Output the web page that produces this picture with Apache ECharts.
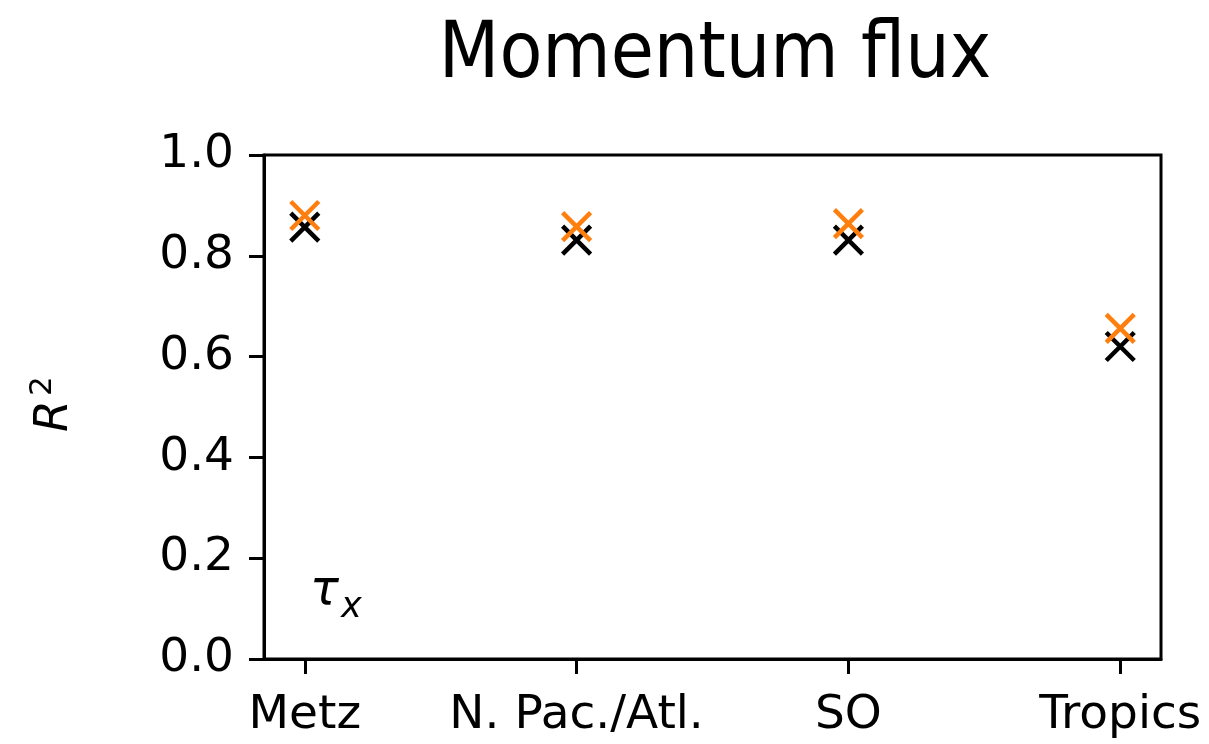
<!DOCTYPE html>
<html><head><meta charset="utf-8">
<script src="https://cdn.jsdelivr.net/npm/echarts@6/dist/echarts.min.js"></script>
<style>html,body{margin:0;padding:0;background:#fff}#c{width:1209px;height:744px}</style>
</head><body><div id="c"></div>
<script>
const categories = ['Metz', 'N. Pac./Atl.', 'SO', 'Tropics'];
const blackValues = [0.857, 0.831, 0.831, 0.620];
const orangeValues = [0.880, 0.858, 0.864, 0.656];
const yTicks = [0, 0.2, 0.4, 0.6, 0.8, 1.0];
const title = 'Momentum flux';

const X = 'path://M0,0L10,10M10,0L0,10';
const font = 'DejaVu Sans';
const chart = echarts.init(document.getElementById('c'));
const toPts = v => v.map((y, i) => [i, y]);
chart.setOption({
  animation: false,
  backgroundColor: '#fff',
  title: {text: title, left: 710, textAlign: 'center', top: 13,
    textStyle: {fontFamily: 'DejaVu Sans Condensed, DejaVu Sans', fontWeight: 'normal', fontSize: 78, color: '#000'}},
  grid: {left: 264, right: 48, top: 155, bottom: 85, show: true, borderColor: '#000', borderWidth: 3, backgroundColor: 'transparent'},
  xAxis: {type: 'value', min: -0.15, max: 3.15,
    axisLine: {onZero: false, lineStyle: {color: '#000', width: 3}},
    splitLine: {show: false},
    axisTick: {show: true, length: 15, lineStyle: {color: '#000', width: 3}, customValues: categories.map((c, i) => i)},
    axisLabel: {customValues: categories.map((c, i) => i), formatter: v => categories[Math.round(v)], color: '#000', fontFamily: font, fontSize: 47, margin: 33}},
  yAxis: {type: 'value', min: 0, max: 1, interval: 0.2,
    axisLine: {show: true, onZero: false, lineStyle: {color: '#000', width: 3}},
    splitLine: {show: false},
    axisTick: {show: true, length: 15, lineStyle: {color: '#000', width: 3}},
    axisLabel: {formatter: v => v.toFixed(1), color: '#000', fontFamily: font, fontSize: 47, margin: 30}},
  series: [
    {type: 'scatter', data: toPts(blackValues), symbol: X, symbolSize: 28,
      itemStyle: {color: 'none', borderColor: '#000', borderWidth: 4.5, opacity: 1}},
    {type: 'scatter', data: toPts(orangeValues), symbol: X, symbolSize: 28,
      itemStyle: {color: 'none', borderColor: '#ff7f0e', borderWidth: 4.5, opacity: 1}}
  ],
  graphic: [
    {type: 'group', x: 78, y: 432, rotation: Math.PI / 2, children: [
      {type: 'text', x: 0, y: 0, style: {text: 'R', font: 'italic 46px DejaVu Sans', fill: '#000', textVerticalAlign: 'bottom'}},
      {type: 'text', x: 36, y: -20, style: {text: '2', font: '31px DejaVu Sans', fill: '#000', textVerticalAlign: 'bottom'}}
    ]},
    {type: 'text', left: 310, top: 568, style: {text: 'τ', font: 'italic 48px DejaVu Sans', fill: '#000'}},
    {type: 'text', left: 341, top: 590, style: {text: 'x', font: 'italic 35px DejaVu Sans', fill: '#000'}}
  ]
});
</script></body></html>
